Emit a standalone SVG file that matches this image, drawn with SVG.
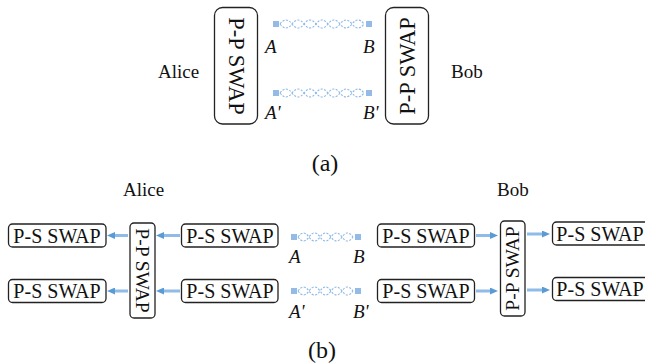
<svg xmlns="http://www.w3.org/2000/svg" width="645" height="364" viewBox="0 0 645 364">
<style>
text{font-family:"Liberation Serif","Times New Roman",serif;fill:#111}
.lbl{font-size:19px}
.it{font-size:19px;font-style:italic}
.cap{font-size:24px}
.ps{font-size:20px;text-anchor:middle}
.ppa{font-size:22.5px;text-anchor:middle}
.ppb{font-size:19.5px;text-anchor:middle}
.box{fill:#fff;stroke:#222;stroke-width:1.3}
.q{fill:#94bbe5}
.wave{fill:none;stroke:#8fb9e4;stroke-width:1.1;stroke-dasharray:2.2 1.4}
.arr{stroke:#8fbbe6;stroke-width:3;fill:none;marker-end:url(#ah)}
</style>
<defs>
<marker id="ah" markerUnits="userSpaceOnUse" markerWidth="8" markerHeight="7" refX="0" refY="3.5" orient="auto">
<path d="M0,0 L8,3.5 L0,7 z" fill="#5b9bd5"/>
</marker>
</defs>

<!-- (a) -->
<text class="lbl" x="158" y="78">Alice</text>
<text class="lbl" x="451" y="78">Bob</text>
<g id="a-pp-left">
<rect class="box" x="214.5" y="7.5" width="43" height="116.5" rx="8"/>
<text class="ppa" transform="translate(236,66) rotate(90)" x="0" y="7.5">P-P SWAP</text>
</g>
<g id="a-pp-right">
<rect class="box" x="385.5" y="7.5" width="43" height="116.5" rx="8"/>
<text class="ppa" transform="translate(407,66) rotate(-90)" x="0" y="7.5">P-P SWAP</text>
</g>
<g id="a-qubits">
<rect class="q" x="273" y="21" width="6" height="6"/>
<rect class="q" x="366" y="21" width="6" height="6"/>
<rect class="q" x="273" y="90" width="6" height="6"/>
<rect class="q" x="366" y="90" width="6" height="6"/>
<text class="it" x="265" y="53">A</text>
<text class="it" x="363" y="53">B</text>
<text class="it" x="265" y="119">A'</text>
<text class="it" x="363" y="119">B'</text>
</g>
<text class="cap" x="325" y="171" text-anchor="middle">(a)</text>

<!-- (b) -->
<text class="lbl" x="123" y="196">Alice</text>
<text class="lbl" x="497" y="196">Bob</text>
<g id="b-ps-l1"><rect class="box" x="8.5" y="224" width="97.5" height="23" rx="4"/><text class="ps" x="57" y="242.5">P-S SWAP</text></g>
<g id="b-ps-l2"><rect class="box" x="8.5" y="279.5" width="97.5" height="23" rx="4"/><text class="ps" x="57" y="298">P-S SWAP</text></g>
<g id="b-pp-left">
<rect class="box" x="130" y="223" width="25" height="95" rx="4"/>
<text class="ppb" transform="translate(142.5,270.5) rotate(90)" x="0" y="6.7">P-P SWAP</text>
</g>
<g id="b-ps-l3"><rect class="box" x="181.5" y="224" width="96.5" height="23" rx="4"/><text class="ps" x="230" y="242.5">P-S SWAP</text></g>
<g id="b-ps-l4"><rect class="box" x="181.5" y="279.5" width="96.5" height="23" rx="4"/><text class="ps" x="230" y="298">P-S SWAP</text></g>
<g id="b-qubits">
<rect class="q" x="291" y="234" width="6" height="6"/>
<rect class="q" x="355" y="234" width="6" height="6"/>
<rect class="q" x="291" y="288" width="6" height="6"/>
<rect class="q" x="355" y="288" width="6" height="6"/>
<text class="it" x="289" y="263">A</text>
<text class="it" x="353" y="263">B</text>
<text class="it" x="289" y="318">A'</text>
<text class="it" x="353" y="318">B'</text>
</g>
<g id="b-ps-r1"><rect class="box" x="377.5" y="224" width="97" height="23" rx="4"/><text class="ps" x="426" y="242.5">P-S SWAP</text></g>
<g id="b-ps-r2"><rect class="box" x="377.5" y="279.5" width="97" height="23" rx="4"/><text class="ps" x="426" y="298">P-S SWAP</text></g>
<g id="b-pp-right">
<rect class="box" x="500.5" y="221" width="24.5" height="95" rx="4"/>
<text class="ppb" transform="translate(512.7,268.5) rotate(-90)" x="0" y="6.7">P-P SWAP</text>
</g>
<g id="b-ps-r3"><rect class="box" x="552.5" y="222" width="98" height="23" rx="4"/><text class="ps" x="600" y="240.5">P-S SWAP</text></g>
<g id="b-ps-r4"><rect class="box" x="552.5" y="277.5" width="98" height="23" rx="4"/><text class="ps" x="600" y="296">P-S SWAP</text></g>
<text class="cap" x="322" y="358" text-anchor="middle">(b)</text>

<g id="connectors">
<path class="wave" d="M280,24 Q286,16 292,24 T304,24 T316,24 T328,24 T340,24 T352,24 T364,24"/>
<path class="wave" d="M280,24 Q286,32 292,24 T304,24 T316,24 T328,24 T340,24 T352,24 T364,24"/>
<path class="wave" d="M280,93 Q286,85 292,93 T304,93 T316,93 T328,93 T340,93 T352,93 T364,93"/>
<path class="wave" d="M280,93 Q286,101 292,93 T304,93 T316,93 T328,93 T340,93 T352,93 T364,93"/>
<path class="wave" d="M298,237 Q303.5,229 309,237 T320,237 T331,237 T342,237 T353,237"/>
<path class="wave" d="M298,237 Q303.5,245 309,237 T320,237 T331,237 T342,237 T353,237"/>
<path class="wave" d="M298,291 Q303.5,283 309,291 T320,291 T331,291 T342,291 T353,291"/>
<path class="wave" d="M298,291 Q303.5,299 309,291 T320,291 T331,291 T342,291 T353,291"/>
<line class="arr" x1="128" y1="235.5" x2="115" y2="235.5"/>
<line class="arr" x1="128" y1="291" x2="115" y2="291"/>
<line class="arr" x1="180" y1="235.5" x2="164" y2="235.5"/>
<line class="arr" x1="180" y1="291" x2="164" y2="291"/>
<line class="arr" x1="476" y1="235.5" x2="490" y2="235.5"/>
<line class="arr" x1="476" y1="291" x2="490" y2="291"/>
<line class="arr" x1="527" y1="234" x2="542" y2="234"/>
<line class="arr" x1="527" y1="290" x2="542" y2="290"/>
</g>
</svg>
